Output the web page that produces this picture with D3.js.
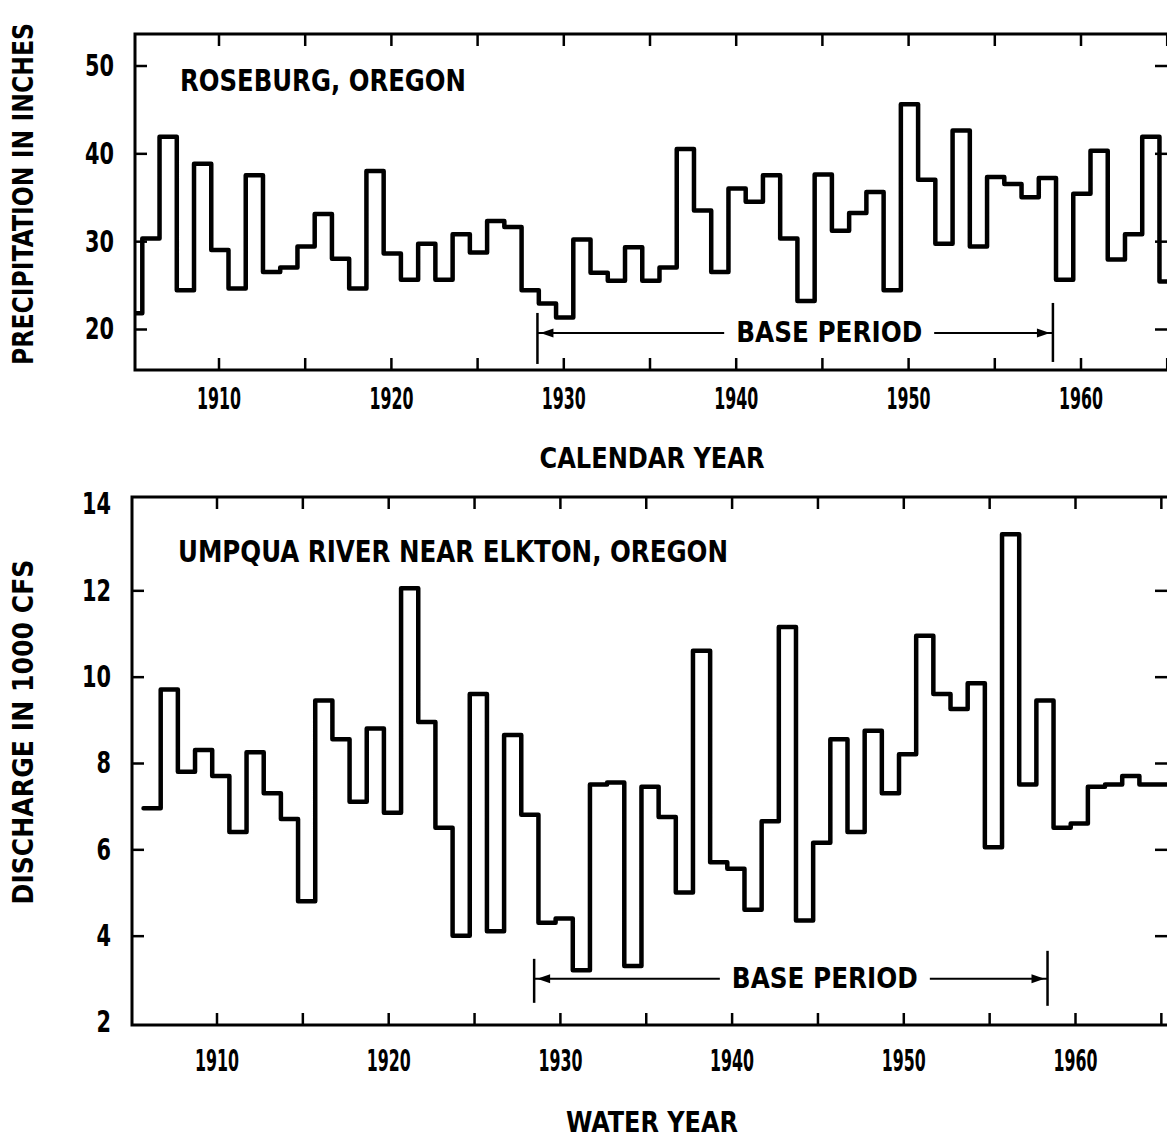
<!DOCTYPE html>
<html><head><meta charset="utf-8">
<script src="https://cdn.jsdelivr.net/npm/d3@7"></script>
<style>
body{margin:0;background:#fff;}
svg{display:block;}
text{font-family:"DejaVu Sans Condensed","Liberation Sans Narrow","Arial Narrow",sans-serif;font-weight:bold;fill:#000;}
</style></head><body>
<svg id="chart" width="1167" height="1141"></svg>
<script>
// ---------- DATA ----------
const precipStartYear = 1905;   // calendar years 1905..1965
const precipValues = [
  21.8, 30.3, 41.9, 24.4, 38.8, 29.0, 24.6, 37.5, 26.5, 27.0,
  29.4, 33.1, 28.0, 24.6, 38.0, 28.6, 25.6, 29.7, 25.6, 30.8,
  28.7, 32.3, 31.6, 24.4, 22.9, 21.3, 30.2, 26.4, 25.5, 29.3,
  25.5, 27.0, 40.5, 33.5, 26.5, 36.0, 34.5, 37.5, 30.3, 23.2,
  37.6, 31.2, 33.2, 35.6, 24.4, 45.6, 37.0, 29.7, 42.6, 29.4,
  37.3, 36.5, 35.0, 37.2, 25.6, 35.4, 40.3, 27.9, 30.8, 41.9, 25.4
];
const flowStartYear = 1906;     // water years 1906..1965 (1000 cfs)
const flowValues = [
  6.95, 9.7, 7.8, 8.3, 7.7, 6.4, 8.25, 7.3, 6.7, 4.8,
  9.45, 8.55, 7.1, 8.8, 6.85, 12.05, 8.95, 6.5, 4.0, 9.6,
  4.1, 8.65, 6.8, 4.3, 4.4, 3.2, 7.5, 7.55, 3.3, 7.45,
  6.75, 5.0, 10.6, 5.7, 5.55, 4.6, 6.65, 11.15, 4.35, 6.15,
  8.55, 6.4, 8.75, 7.3, 8.2, 10.95, 9.6, 9.25, 9.85, 6.05,
  13.3, 7.5, 9.45, 6.5, 6.6, 7.45, 7.5, 7.7, 7.5, 7.5
];
const xTickYears = [1910, 1915, 1920, 1925, 1930, 1935, 1940, 1945, 1950, 1955, 1960, 1965];
const xLabelYears = [1910, 1920, 1930, 1940, 1950, 1960];
const precipTicks = [20, 30, 40, 50];
const flowTicks = [2, 4, 6, 8, 10, 12, 14];
const basePeriod = [1928.5, 1958.4];
const basePeriodLabel = "BASE PERIOD";
const precipTitle = "ROSEBURG,  OREGON";
const flowTitle = "UMPQUA RIVER NEAR ELKTON,  OREGON";
const precipYLabel = "PRECIPITATION IN INCHES";
const flowYLabel = "DISCHARGE IN 1000 CFS";
const precipXLabel = "CALENDAR YEAR";
const flowXLabel = "WATER YEAR";

// ---------- LAYOUT ----------
const svg = d3.select("#chart");

const panels = [
  {
    values: precipValues, start: precipStartYear, offset: -0.42,
    frame: {x0: 135, x1: 1175, y0: 34, y1: 370},
    x: d3.scaleLinear().domain([1910, 1960]).range([218.5, 1080.5]),
    y: d3.scaleLinear().domain([20, 50]).range([329, 65.5]),
    yTicks: precipTicks, yTickMarks: precipTicks,
    title: precipTitle, titleX: 180, titleY: 80, titleLen: 286,
    yLabel: precipYLabel, yLabelY: 194, yLabelLen: 342,
    xLabel: precipXLabel, xLabelY: 458, xLabelLen: 225,
    xPad: 17, baseY: 19.55, barL: [-20, 31], barR: [-30, 29]
  },
  {
    values: flowValues, start: flowStartYear, offset: -0.25,
    frame: {x0: 132, x1: 1175, y0: 497, y1: 1025},
    x: d3.scaleLinear().domain([1910, 1960]).range([216.5, 1075]),
    y: d3.scaleLinear().domain([2, 14]).range([1022, 504]),
    yTicks: flowTicks, yTickMarks: [4, 6, 8, 10, 12],
    title: flowTitle, titleX: 178, titleY: 551, titleLen: 550,
    yLabel: flowYLabel, yLabelY: 732, yLabelLen: 345,
    xLabel: flowXLabel, xLabelY: 1122, xLabelLen: 172,
    xPad: 24, baseY: 3.0, barL: [-20, 24], barR: [-28, 27]
  }
];

panels.forEach((p, idx) => {
  const f = p.frame;
  const g = svg.append("g");

  const clipId = "clip" + idx;
  svg.append("clipPath").attr("id", clipId)
    .append("rect").attr("x", f.x0).attr("y", f.y0)
    .attr("width", f.x1 - f.x0).attr("height", f.y1 - f.y0);

  const styleAxis = sel => {
    sel.select(".domain").remove();
    sel.selectAll(".tick line").attr("stroke", "#000").attr("stroke-width", 2.5);
  };
  g.append("g").attr("transform", `translate(0,${f.y1})`)
    .call(d3.axisBottom(p.x).tickValues(xTickYears).tickSize(-12).tickPadding(p.xPad)
      .tickFormat(d => xLabelYears.includes(d) ? d : ""))
    .call(styleAxis)
    .call(s => s.selectAll("text").attr("font-size", 31).attr("textLength", 44)
      .attr("lengthAdjust", "spacingAndGlyphs").attr("fill", "#000"));
  g.append("g").attr("transform", `translate(0,${f.y0})`)
    .call(d3.axisTop(p.x).tickValues(xTickYears).tickSize(-12).tickFormat(""))
    .call(styleAxis);
  g.append("g").attr("transform", `translate(${f.x0},0)`)
    .call(d3.axisLeft(p.y).tickValues(p.yTicks).tickSize(-12).tickPadding(21))
    .call(styleAxis)
    .call(s => s.selectAll(".tick").filter(d => !p.yTickMarks.includes(d)).select("line").remove())
    .call(s => s.selectAll("text").attr("font-size", 31).attr("fill", "#000")
      .attr("textLength", d => String(d).length * 14.5).attr("lengthAdjust", "spacingAndGlyphs"));
  g.append("g").attr("transform", `translate(${f.x1 - 8},0)`)
    .call(d3.axisRight(p.y).tickValues(p.yTickMarks).tickSize(-12).tickFormat(""))
    .call(styleAxis);

  g.append("rect").attr("x", f.x0).attr("y", f.y0)
    .attr("width", f.x1 - f.x0).attr("height", f.y1 - f.y0)
    .attr("fill", "none").attr("stroke", "#000").attr("stroke-width", 3);

  const pts = p.values.map((v, i) => [p.start + i + p.offset, v]);
  pts.push([p.start + p.values.length + p.offset, p.values[p.values.length - 1]]);
  const line = d3.line().x(d => p.x(d[0])).y(d => p.y(d[1])).curve(d3.curveStepAfter);
  g.append("path").attr("d", line(pts)).attr("clip-path", `url(#${clipId})`)
    .attr("fill", "none").attr("stroke", "#000").attr("stroke-width", 4.5)
    .attr("stroke-linejoin", "round").attr("stroke-linecap", "round");

  g.append("text").attr("x", p.titleX).attr("y", p.titleY)
    .attr("dominant-baseline", "central").attr("font-size", 31)
    .attr("textLength", p.titleLen).attr("lengthAdjust", "spacingAndGlyphs")
    .text(p.title);
  g.append("text").attr("transform", `translate(23,${p.yLabelY}) rotate(-90)`)
    .attr("text-anchor", "middle").attr("dominant-baseline", "central").attr("font-size", 28)
    .attr("textLength", p.yLabelLen).attr("lengthAdjust", "spacingAndGlyphs")
    .text(p.yLabel);
  g.append("text").attr("x", 652).attr("y", p.xLabelY)
    .attr("text-anchor", "middle").attr("dominant-baseline", "central").attr("font-size", 29)
    .attr("textLength", p.xLabelLen).attr("lengthAdjust", "spacingAndGlyphs")
    .text(p.xLabel);

  const bx0 = p.x(basePeriod[0]), bx1 = p.x(basePeriod[1]), by = p.y(p.baseY);
  const mid = (bx0 + bx1) / 2 + 34;
  g.append("line").attr("x1", bx0).attr("x2", bx0).attr("y1", by + p.barL[0]).attr("y2", by + p.barL[1])
    .attr("stroke", "#000").attr("stroke-width", 2.5);
  g.append("line").attr("x1", bx1).attr("x2", bx1).attr("y1", by + p.barR[0]).attr("y2", by + p.barR[1])
    .attr("stroke", "#000").attr("stroke-width", 2.5);
  g.append("line").attr("x1", bx0).attr("x2", mid - 105).attr("y1", by).attr("y2", by)
    .attr("stroke", "#000").attr("stroke-width", 2);
  g.append("line").attr("x1", mid + 105).attr("x2", bx1).attr("y1", by).attr("y2", by)
    .attr("stroke", "#000").attr("stroke-width", 2);
  g.append("path").attr("d", `M${bx0 + 3},${by} L${bx0 + 16},${by - 4.5} L${bx0 + 16},${by + 4.5} Z`);
  g.append("path").attr("d", `M${bx1 - 3},${by} L${bx1 - 16},${by - 4.5} L${bx1 - 16},${by + 4.5} Z`);
  g.append("text").attr("x", mid).attr("y", by)
    .attr("text-anchor", "middle").attr("dominant-baseline", "central").attr("font-size", 28)
    .attr("textLength", 186).attr("lengthAdjust", "spacingAndGlyphs")
    .text(basePeriodLabel);
});
</script>
</body></html>
